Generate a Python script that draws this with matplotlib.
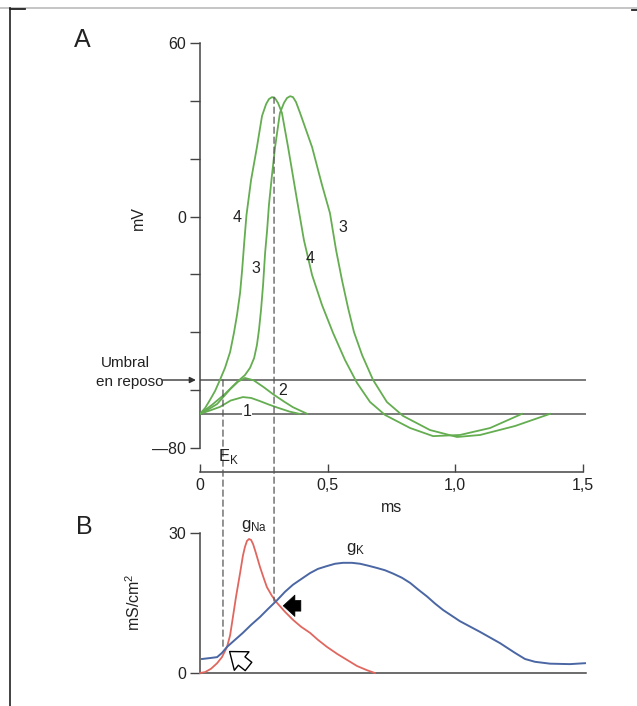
import matplotlib
matplotlib.use('Agg')
import matplotlib.pyplot as plt
from matplotlib.lines import Line2D
from matplotlib.patches import ConnectionPatch

plt.rcParams['font.family'] = ['Liberation Sans', 'DejaVu Sans']

# ---------------- data ----------------
# Panel A: membrane potential (mV) vs time (ms)
t4 = [0.0, 0.020, 0.039, 0.059, 0.078, 0.098, 0.118, 0.133, 0.145, 0.157, 0.165, 0.174,
      0.182, 0.200, 0.223, 0.243, 0.259, 0.270, 0.282, 0.294, 0.306, 0.321, 0.345, 0.380,
      0.407, 0.439, 0.478, 0.521, 0.568, 0.615, 0.666, 0.725, 0.823, 0.913, 1.018, 1.136,
      1.261]
v4 = [-68.2, -66.2, -63.4, -60.3, -56.5, -52.3, -46.8, -40.2, -34.0, -26.4, -18.5, -8.1,
      0.5, 12.6, 24.0, 34.8, 38.9, 40.6, 41.3, 40.9, 39.2, 35.8, 24.0, 5.7,
      -8.1, -20.2, -30.6, -40.2, -49.6, -57.5, -64.1, -68.6, -73.1, -75.9, -75.5, -73.1,
      -68.2]
t3 = [0.0, 0.047, 0.098, 0.145, 0.176, 0.196, 0.212, 0.223, 0.231, 0.239, 0.247, 0.255,
      0.263, 0.270, 0.282, 0.294, 0.313, 0.329, 0.341, 0.353, 0.364, 0.376, 0.392, 0.439,
      0.478, 0.509, 0.533, 0.556, 0.580, 0.603, 0.635, 0.678, 0.732, 0.795, 0.901, 1.007,
      1.097, 1.234, 1.371]
v3 = [-68.2, -65.1, -61.3, -57.2, -54.8, -52.3, -48.9, -44.4, -39.2, -32.3, -23.7, -12.6,
      -4.6, 4.0, 14.4, 24.0, 35.8, 39.3, 41.0, 41.6, 41.3, 39.6, 35.8, 24.0,
      10.9, 1.2, -11.6, -21.9, -31.6, -39.9, -47.9, -56.5, -64.1, -68.9, -73.8, -76.2,
      -75.5, -72.4, -68.2]
t2 = [0.0, 0.03, 0.067, 0.095, 0.118, 0.15, 0.176, 0.21, 0.25, 0.286, 0.33, 0.364, 0.42]
v2 = [-68.2, -66.8, -64.8, -62.0, -59.7, -57.0, -55.8, -56.6, -59.0, -61.4, -64.0, -65.9, -68.2]
t1 = [0.0, 0.04, 0.078, 0.12, 0.168, 0.2, 0.235, 0.27, 0.302, 0.35, 0.39]
v1 = [-68.2, -67.0, -65.8, -63.6, -62.4, -62.7, -63.8, -65.0, -66.0, -67.4, -68.2]
curve_labels = ['1', '2', '3', '4']

v_rest = -68.2
v_threshold = -56.5
line_end = 1.51

# Panel B: conductances (mS/cm2) vs time (ms)
t_na = [0.0, 0.020, 0.043, 0.067, 0.086, 0.106, 0.118, 0.129, 0.141, 0.157, 0.168, 0.176,
        0.184, 0.192, 0.200, 0.208, 0.219, 0.235, 0.251, 0.262, 0.282, 0.302, 0.333, 0.364,
        0.396, 0.431, 0.462, 0.497, 0.537, 0.576, 0.615, 0.654, 0.685]
g_na = [0.0, 0.2, 0.9, 2.1, 3.4, 5.6, 8.1, 12.0, 16.3, 21.4, 25.1, 27.0,
        28.3, 28.7, 28.5, 27.6, 25.7, 22.7, 20.1, 18.4, 16.5, 15.0, 13.1, 11.4,
        9.9, 8.6, 7.1, 5.6, 4.1, 2.8, 1.5, 0.6, 0.0]
t_k = [0.008, 0.039, 0.067, 0.086, 0.106, 0.137, 0.168, 0.200, 0.235, 0.266, 0.302, 0.333,
       0.364, 0.396, 0.431, 0.462, 0.497, 0.529, 0.560, 0.595, 0.627, 0.658, 0.693, 0.725,
       0.756, 0.791, 0.823, 0.854, 0.889, 0.920, 0.952, 1.018, 1.097, 1.175, 1.234, 1.273,
       1.312, 1.371, 1.449, 1.508]
g_k = [3.0, 3.2, 3.4, 4.3, 5.6, 7.1, 8.6, 10.3, 12.0, 13.7, 15.6, 17.4,
       18.9, 20.1, 21.4, 22.3, 22.9, 23.4, 23.6, 23.6, 23.4, 23.0, 22.5, 22.0,
       21.3, 20.4, 19.3, 17.9, 16.4, 14.9, 13.5, 11.1, 8.8, 6.4, 4.3, 3.0,
       2.4, 2.0, 1.9, 2.1]

# dashed markers linking the panels
t_dash = [0.09, 0.29]
v_dash_top = [v_threshold, 41.3]
g_dash_bottom = [5.0, 15.4]

# axis ticks
a_yticks = [-80, -60, -40, -20, 0, 20, 40, 60]
a_yticklabels = ['—80', '', '', '', '0', '', '', '60']
a_xticks = [0, 0.5, 1.0, 1.5]
a_xticklabels = ['0', '0,5', '1,0', '1,5']
b_yticks = [0, 30]
b_yticklabels = ['0', '30']

# ---------------- figure ----------------
W, H = 637, 706
fig = plt.figure(figsize=(W / 100, H / 100), dpi=100)
fig.patch.set_facecolor('white')


def fx(x):
    return x / W


def fy(y):
    return 1 - y / H


GREEN = '#64ad50'
RED = '#e0675f'
BLUE = '#4a66a3'
AX = '#444444'
TXT = '#222222'

axA = fig.add_axes([fx(200), fy(472), 413.6 / W, (472 - 37.2) / H])
axB = fig.add_axes([fx(200), fy(673), 413.6 / W, (673 - 523.6) / H])

for ax in (axA, axB):
    ax.patch.set_alpha(0)
    ax.set_xlim(0, 1.62)
    for s in ('top', 'right'):
        ax.spines[s].set_visible(False)
    for s in ('left', 'bottom'):
        ax.spines[s].set_color(AX)
        ax.spines[s].set_linewidth(1.1)
    ax.tick_params(colors=AX, labelcolor=TXT, labelsize=11.5, width=1.0)

# ---- Panel A ----
axA.set_ylim(-88.3, 62)
axA.spines['left'].set_bounds(-80, 60)
axA.spines['bottom'].set_bounds(0, 1.5)
axA.set_yticks(a_yticks, a_yticklabels)
axA.set_xticks(a_xticks, a_xticklabels)
axA.tick_params(axis='x', direction='in', length=6, pad=4)
axA.tick_params(axis='y', direction='out', length=7, pad=3)

axA.hlines([v_threshold, v_rest], 0, line_end, color='#555555', lw=1.1, zorder=2)
for t, v in ((t1, v1), (t2, v2), (t3, v3), (t4, v4)):
    axA.plot(t, v, color=GREEN, lw=1.3, zorder=3, solid_joinstyle='round')

txt_kw = dict(fontsize=11.5, color=TXT, ha='center', va='center', zorder=5)
axA.text(0.145, -0.3, curve_labels[3], **txt_kw)
axA.text(0.219, -17.8, curve_labels[2], **txt_kw)
axA.text(0.43, -14.4, curve_labels[3], **txt_kw)
axA.text(0.56, -3.8, curve_labels[2], **txt_kw)
axA.text(0.184, -67.4, curve_labels[0], bbox=dict(fc='white', ec='none', pad=0.5), **txt_kw)
axA.text(0.325, -60.2, curve_labels[1], **txt_kw)

# E_K label
fig.text(fx(228), fy(456), r'E$_\mathregular{K}$', fontsize=12, color=TXT,
         ha='center', va='center')

# Umbral en reposo
fig.text(fx(125), fy(363), 'Umbral', fontsize=11, color=TXT, ha='center', va='center')
fig.text(fx(163), fy(382), 'en reposo', fontsize=11, color=TXT, ha='right', va='center')
axA.annotate('', xy=(-0.016, v_threshold), xytext=(-0.146, v_threshold),
             arrowprops=dict(arrowstyle='-|>', color='#333333', lw=1.0, mutation_scale=9,
                             shrinkA=0, shrinkB=0), annotation_clip=False)

fig.text(fx(138), fy(218), 'mV', fontsize=11.5, rotation=90, color=TXT,
         ha='center', va='center')
fig.text(fx(392), fy(507), 'ms', fontsize=11.5, color=TXT, ha='center', va='center')
fig.text(fx(82), fy(40), 'A', fontsize=18, color=TXT, ha='center', va='center')

# ---- Panel B ----
axB.set_ylim(0, 32)
axB.spines['left'].set_bounds(0, 30)
axB.spines['bottom'].set_bounds(0, line_end)
axB.set_yticks(b_yticks, b_yticklabels)
axB.set_xticks([])
axB.tick_params(axis='y', direction='out', length=7, pad=3)

axB.plot(t_na, g_na, color=RED, lw=1.3, clip_on=False, zorder=3, solid_joinstyle='round')
axB.plot(t_k, g_k, color=BLUE, lw=1.4, clip_on=False, zorder=3, solid_joinstyle='round')

fig.text(fx(254), fy(526), r'$\mathregular{g_{Na}}$', fontsize=12, color=TXT,
         ha='center', va='center')
fig.text(fx(356), fy(549), r'$\mathregular{g_{K}}$', fontsize=12, color=TXT,
         ha='center', va='center')
fig.text(fx(134), fy(602), r'mS/cm$^\mathregular{2}$', fontsize=11.5, rotation=90,
         color=TXT, ha='center', va='center')
fig.text(fx(84), fy(527), 'B', fontsize=18, color=TXT, ha='center', va='center')

# arrows in B
axB.annotate('', xy=(0.116, 4.6), xytext=(0.19, 1.4),
             arrowprops=dict(arrowstyle='simple,head_length=0.65,head_width=1.0,tail_width=0.45',
                             fc='white', ec='black', lw=1.0, mutation_scale=17,
                             shrinkA=0, shrinkB=0), zorder=6)
axB.annotate('', xy=(0.326, 14.4), xytext=(0.395, 14.4),
             arrowprops=dict(arrowstyle='simple,head_length=0.6,head_width=1.1,tail_width=0.55',
                             fc='black', ec='black', lw=0.5, mutation_scale=14,
                             shrinkA=0, shrinkB=0), zorder=6)

# dashed lines linking the panels
for t, vt, gb in zip(t_dash, v_dash_top, g_dash_bottom):
    con = ConnectionPatch(xyA=(t, vt), coordsA=axA.transData, xyB=(t, gb),
                          coordsB=axB.transData, color='#555555', lw=0.9,
                          linestyle=(0, (5, 3)), zorder=1)
    fig.add_artist(con)

# page frame
fig.add_artist(Line2D([0, 1], [fy(8), fy(8)], transform=fig.transFigure, color='#bbbbbb', lw=1.2))
fig.add_artist(Line2D([fx(10), fx(10)], [fy(8), 0], transform=fig.transFigure, color='#333333', lw=1.3))
fig.add_artist(Line2D([fx(10), fx(25)], [fy(9), fy(9)], transform=fig.transFigure, color='#222222', lw=1.3))
fig.add_artist(Line2D([fx(632), 1], [fy(9.5), fy(9.5)], transform=fig.transFigure, color='#222222', lw=1.3))

fig.savefig('out.png', dpi=100, facecolor='white')
